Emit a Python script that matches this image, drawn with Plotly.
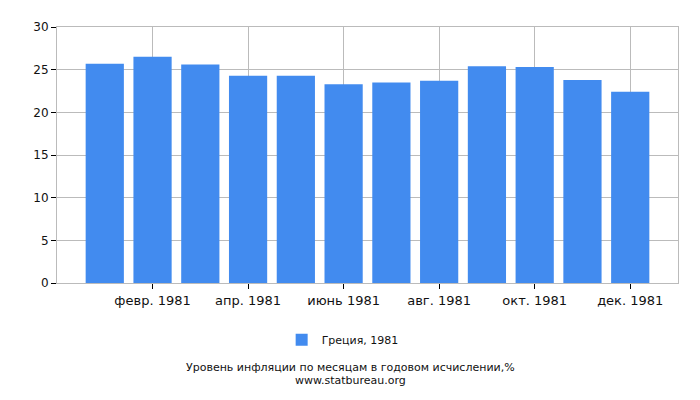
import plotly.graph_objects as go

# Данные
months = ['янв. 1981', 'февр. 1981', 'март 1981', 'апр. 1981', 'май 1981', 'июнь 1981',
          'июль 1981', 'авг. 1981', 'сент. 1981', 'окт. 1981', 'нояб. 1981', 'дек. 1981']
inflation = [25.7, 26.5, 25.6, 24.3, 24.3, 23.3, 23.5, 23.7, 25.4, 25.3, 23.8, 22.4]
tick_months = ['февр. 1981', 'апр. 1981', 'июнь 1981', 'авг. 1981', 'окт. 1981', 'дек. 1981']
series_name = 'Греция, 1981'

fig = go.Figure()
fig.add_trace(go.Bar(x=months, y=inflation, name=series_name,
                     marker=dict(color='#428BEF', line=dict(width=0)), width=0.8))

# страница сдвигает график на 8px (отступ body), поэтому поля подогнаны
fig.update_layout(
    width=700, height=400,
    margin=dict(l=49, r=30, t=14, b=125),
    paper_bgcolor='white', plot_bgcolor='white',
    font=dict(family='DejaVu Sans', size=12, color='#111'),
    showlegend=True,
    legend=dict(orientation='h', x=0.46, xanchor='center', y=-0.222, yanchor='middle',
                font=dict(size=11)),
    bargap=0.2,
)
fig.update_xaxes(type='category', range=[-1, 12], tickvals=tick_months, ticktext=tick_months,
                 tickfont=dict(size=13),
                 showgrid=True, gridcolor='#BBBBBB', ticks='outside', ticklen=5,
                 tickcolor='#000', showline=True, linecolor='#BBBBBB', mirror=True)
fig.update_yaxes(range=[0, 30], dtick=5, showgrid=True, gridcolor='#BBBBBB',
                 ticks='outside', ticklen=5, tickcolor='#000', showline=True,
                 linecolor='#BBBBBB', mirror=True, zeroline=False)

fig.add_annotation(text='Уровень инфляции по месяцам в годовом исчислении,%',
                   xref='paper', yref='paper', x=0.472, y=-0.329, yanchor='middle',
                   xanchor='center', showarrow=False, font=dict(size=11))
fig.add_annotation(text='www.statbureau.org',
                   xref='paper', yref='paper', x=0.472, y=-0.379, yanchor='middle',
                   xanchor='center', showarrow=False, font=dict(size=11))

fig.write_html("out.html")
